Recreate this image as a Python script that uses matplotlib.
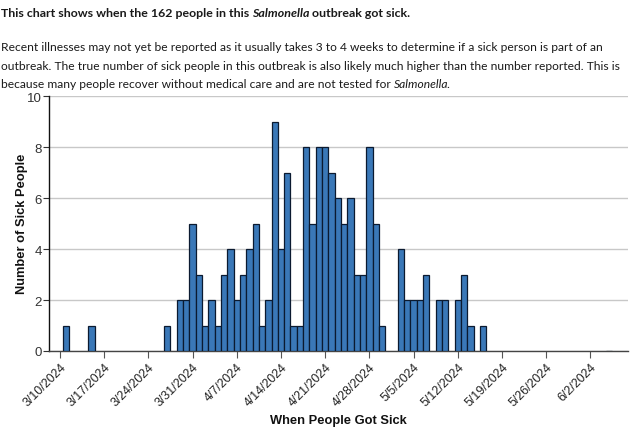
import matplotlib
matplotlib.use("Agg")
import matplotlib.pyplot as plt
import matplotlib.dates as mdates
import datetime as dt

# ---- data ----
dates = ["2024-03-10", "2024-03-14", "2024-03-26",
         "2024-03-28", "2024-03-29", "2024-03-30", "2024-03-31", "2024-04-01",
         "2024-04-02", "2024-04-03", "2024-04-04", "2024-04-05", "2024-04-06",
         "2024-04-07", "2024-04-08", "2024-04-09", "2024-04-10", "2024-04-11",
         "2024-04-12", "2024-04-13", "2024-04-14", "2024-04-15", "2024-04-16",
         "2024-04-17", "2024-04-18", "2024-04-19", "2024-04-20", "2024-04-21",
         "2024-04-22", "2024-04-23", "2024-04-24", "2024-04-25", "2024-04-26",
         "2024-04-27", "2024-04-28", "2024-04-29",
         "2024-05-02", "2024-05-03", "2024-05-04", "2024-05-05", "2024-05-06",
         "2024-05-08", "2024-05-09", "2024-05-11", "2024-05-12", "2024-05-13",
         "2024-05-15", "2024-06-04"]
counts = [1, 1, 1,
          2, 2, 5, 3, 1,
          2, 1, 3, 4, 2,
          3, 4, 5, 1, 2,
          9, 4, 7, 1, 1,
          8, 5, 8, 8, 7,
          6, 5, 6, 3, 3,
          8, 5, 1,
          4, 2, 2, 2, 3,
          2, 2, 2, 3, 1,
          1, 0]
tick_dates = ["2024-03-10", "2024-03-17", "2024-03-24", "2024-03-31", "2024-04-07",
              "2024-04-14", "2024-04-21", "2024-04-28", "2024-05-05", "2024-05-12",
              "2024-05-19", "2024-05-26", "2024-06-02"]
y_ticks = [0, 2, 4, 6, 8, 10]
title_segments = [("This chart shows when the 162 people in this ", "bold", "normal"),
                  ("Salmonella", "bold", "italic"),
                  (" outbreak got sick.", "bold", "normal")]
para_lines = [
    [("Recent illnesses may not yet be reported as it usually takes 3 to 4 weeks to determine if a sick person is part of an", "normal", "normal")],
    [("outbreak. The true number of sick people in this outbreak is also likely much higher than the number reported. This is", "normal", "normal")],
    [("because many people recover without medical care and are not tested for ", "normal", "normal"),
     ("Salmonella", "normal", "italic"), (".", "normal", "normal")],
]
x_label = "When People Got Sick"
y_label = "Number of Sick People"

W, H = 634, 435
fig = plt.figure(figsize=(W / 100, H / 100), dpi=100)
fig.patch.set_facecolor("white")

def to_num(s):
    return mdates.date2num(dt.datetime.strptime(s, "%Y-%m-%d"))

ax = fig.add_axes([49 / W, 1 - 352 / H, (628 - 49) / W, (352 - 97.3) / H])
xs = [to_num(d) + 0.5 for d in dates]
ax.bar(xs, counts, width=1.0, align="edge", color="#3a78b8",
       edgecolor="#0b1a30", linewidth=0.9, zorder=3)

x0 = to_num("2024-03-10")
ax.set_xlim(x0 - 1.74, x0 + 89.96)
ax.set_ylim(0, 10)
ax.set_yticks(y_ticks)
ax.set_yticklabels([str(v) for v in y_ticks], fontsize=9.5, color="#333333",
                   fontfamily="Liberation Sans")
tx = [to_num(d) for d in tick_dates]
ax.set_xticks(tx)
labels = []
for d in tick_dates:
    t = dt.datetime.strptime(d, "%Y-%m-%d")
    labels.append(f"{t.month}/{t.day}/{t.year}")
ax.set_xticklabels(labels, rotation=45, ha="right", rotation_mode="anchor",
                   fontsize=8.9, color="#222222", fontfamily="Liberation Sans")
ax.tick_params(axis="x", length=5, color="#555555", width=0.8, pad=2)
ax.tick_params(axis="y", length=4, color="#333333", width=0.8, pad=1)

ax.grid(axis="y", color="#c8c8c8", linewidth=1.0, zorder=0)
ax.set_axisbelow(True)
for s in ["top", "right"]:
    ax.spines[s].set_visible(False)
ax.spines["left"].set_color("#111111")
ax.spines["left"].set_linewidth(1.0)
ax.spines["bottom"].set_color("#444444")
ax.spines["bottom"].set_linewidth(1.0)

fig.text(22 / W, 1 - 224 / H, y_label, rotation=90, ha="center", va="center",
         fontsize=9.3, fontweight="bold", fontfamily="Liberation Sans", color="#111111")
fig.text(338 / W, 1 - 421 / H, x_label, ha="center", va="center",
         fontsize=9.3, fontweight="bold", fontfamily="Liberation Sans", color="#111111")

# header text drawn as sequential segments
fig.canvas.draw()
renderer = fig.canvas.get_renderer()

def draw_line(segments, x_px, y_px, size):
    x = x_px
    for text, weight, style in segments:
        t = fig.text(x / W, 1 - y_px / H, text, ha="left", va="baseline",
                     fontsize=size, fontweight=weight, fontstyle=style,
                     fontfamily="Lato", color="#1a1a1a")
        bb = t.get_window_extent(renderer=renderer)
        adj = 0.0
        if style == "italic":
            adj = 0.5 if weight == "bold" else 2.5
        x = x + bb.width - adj

draw_line(title_segments, 1, 17, 8.95)
for i, line in enumerate(para_lines):
    draw_line(line, 1, 51 + i * 18.7, 8.68)

fig.savefig("out.png", dpi=100, facecolor="white")
